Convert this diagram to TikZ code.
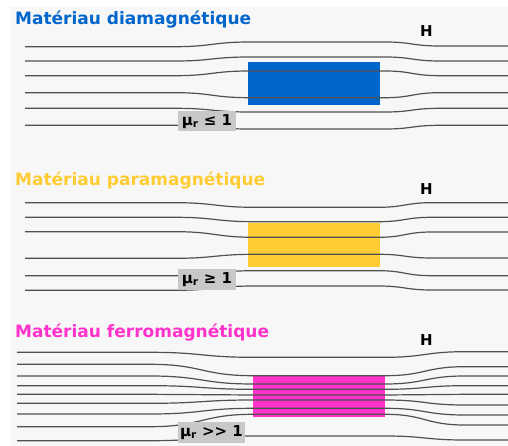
\documentclass[tikz,border=0pt]{standalone}
\usepackage{fontspec}
\setmainfont{DejaVu Sans}
\usepackage{tikz}

\definecolor{diablue}{HTML}{0066CC}
\definecolor{parayellow}{HTML}{FFCC33}
\definecolor{ferropink}{HTML}{FF33CC}
\definecolor{bggray}{HTML}{F7F7F7}
\definecolor{tagray}{HTML}{C8C8C8}
\definecolor{linegray}{HTML}{505050}

\tikzset{
  fieldline/.style={linegray,line width=1.2pt},
  title/.style={anchor=base west,inner sep=0pt,font=\fontsize{17}{19}\selectfont\bfseries},
  hlabel/.style={anchor=base west,inner sep=0pt,font=\fontsize{15}{17}\selectfont\bfseries},
  matbox/.style={inner sep=0pt,minimum width=132pt,minimum height=43pt},
  mutag/.style={fill=tagray,inner sep=0pt,minimum width=58pt,minimum height=20pt,
    font=\fontsize{15}{17}\selectfont\bfseries}
}

\begin{document}
\begin{tikzpicture}[x=1pt,y=-1pt]
\useasboundingbox (0,0) rectangle (508,446);
\fill[white] (0,0) rectangle (508,446);
\fill[bggray] (10,7) rectangle (508,446);

% Diamagnetique
\node[matbox,fill=diablue] (diabox) at (314,83.5) {};
\foreach \l/\m/\r in {46.7/42/46, 61/57/61, 75.7/71/75.7, 92.7/97.7/92.7, 108.3/112/108.3, 125.3/129/125.3}
  \draw[fieldline] (25,\l) -- (175,\l) .. controls (212,\l) and (212,\m) .. (250,\m)
    -- (385,\m) .. controls (412,\m) and (412,\r) .. (440,\r) -- (508,\r);
\node[mutag] (diatag) at (207,121.5) {μ\textsubscript{r} ≤ 1};
\node[title,diablue] (diatitle) at (15,25) {Matériau diamagnétique};
\node[hlabel] (diaH) at (420,37) {H};

% Paramagnetique
\node[matbox,fill=parayellow] (parabox) at (314,245) {};
\foreach \l/\m/\r in {202.7/207.3/202.7, 217.3/221.7/217.3, 231.7/237.3/232, 258.3/254.3/258, 275.7/270.7/275.7, 290.3/286/290}
  \draw[fieldline] (25,\l) -- (175,\l) .. controls (215,\l) and (215,\m) .. (255,\m)
    -- (378,\m) .. controls (405,\m) and (405,\r) .. (432,\r) -- (508,\r);
\node[mutag,minimum height=20.7pt] (paratag) at (207,279.7) {μ\textsubscript{r} ≥ 1};
\node[title,parayellow] (paratitle) at (15,186) {Matériau paramagnétique};
\node[hlabel] (paraH) at (420,195) {H};

% Ferromagnetique
\node[matbox,fill=ferropink,minimum height=42.3pt] (ferrobox) at (319,396.2) {};
\foreach \l/\m/\r in {352.3/357.3/351.7, 364.3/375.7/366.7, 376/384/376, 385.7/389.3/385.7, 394.3/395/394.3,
    403.3/400/405, 414/408.3/415, 426.7/414.3/425, 440.7/436/440}
  \draw[fieldline] (17,\l) -- (150,\l) .. controls (202,\l) and (202,\m) .. (253,\m)
    -- (385,\m) .. controls (425,\m) and (425,\r) .. (465,\r) -- (508,\r);
\node[mutag,minimum width=67pt,minimum height=21pt] (ferrotag) at (211.5,432.2) {μ\textsubscript{r} >{}> 1};
\node[title,ferropink] (ferrotitle) at (15,337.3) {Matériau ferromagnétique};
\node[hlabel] (ferroH) at (420,345) {H};
\end{tikzpicture}
\end{document}
